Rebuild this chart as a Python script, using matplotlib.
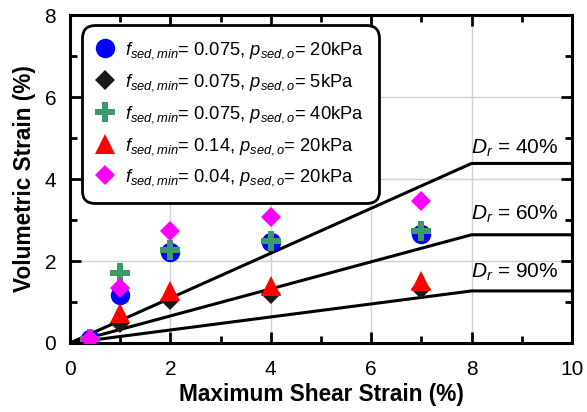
import matplotlib.pyplot as plt
from matplotlib.ticker import MultipleLocator

plt.rcParams['font.family'] = ['Liberation Sans', 'DejaVu Sans']
plt.rcParams['mathtext.fontset'] = 'custom'
plt.rcParams['mathtext.rm'] = 'Liberation Sans'
plt.rcParams['mathtext.it'] = 'Liberation Sans:italic'

# --- data ---
shear = [0.4, 1, 2, 4, 7]
series_labels = [
    r'$f_{sed,min}$= 0.075, $p_{sed,o}$= 20kPa',
    r'$f_{sed,min}$= 0.075, $p_{sed,o}$= 5kPa',
    r'$f_{sed,min}$= 0.075, $p_{sed,o}$= 40kPa',
    r'$f_{sed,min}$= 0.14, $p_{sed,o}$= 20kPa',
    r'$f_{sed,min}$= 0.04, $p_{sed,o}$= 20kPa',
]
vol_blue = [0.10, 1.17, 2.23, 2.46, 2.66]
vol_black = [0.05, 0.48, 1.05, 1.20, 1.32]
vol_green = [0.10, 1.71, 2.28, 2.50, 2.72]
vol_red = [0.05, 0.72, 1.26, 1.38, 1.50]
vol_magenta = [0.10, 1.33, 2.73, 3.08, 3.47]

# relative density bounds: linear to 8 %, flat afterwards
dr_labels = ['40%', '60%', '90%']
dr_x = [0, 8, 10]
dr_40 = [0, 4.38, 4.38]
dr_60 = [0, 2.64, 2.64]
dr_90 = [0, 1.27, 1.27]
dr_text_y = [4.75, 3.15, 1.72]

fig = plt.figure(figsize=(5.87, 4.12), dpi=100)
ax = fig.add_axes([0.1193, 0.1675, 0.855, 0.796])

for yy in (dr_40, dr_60, dr_90):
    ax.plot(dr_x, yy, color='black', lw=2.2, zorder=2)
for lab, ty in zip(dr_labels, dr_text_y):
    ax.text(7.98, ty, r'$D_r$ = ' + lab, fontsize=15, va='center', ha='left')

styles = [
    (vol_blue, 'o', '#0000ff', 14),
    (vol_black, 'D', '#1a1a1a', 10),
    (vol_green, 'P', '#3a9a6a', 14),
    (vol_red, '^', '#ff0000', 14),
    (vol_magenta, 'D', '#ff00ff', 10.5),
]
for (vals, m, c, ms), lab in zip(styles, series_labels):
    ax.plot(shear, vals, linestyle='none', marker=m, color=c, markersize=ms,
            markeredgewidth=0, label=lab, zorder=3)

ax.set_xlim(0, 10)
ax.set_ylim(0, 8)
ax.xaxis.set_major_locator(MultipleLocator(2))
ax.xaxis.set_minor_locator(MultipleLocator(1))
ax.yaxis.set_major_locator(MultipleLocator(2))
ax.yaxis.set_minor_locator(MultipleLocator(1))
ax.grid(True, which='major', color='#d0d0d0', lw=1.0, zorder=0)
ax.set_axisbelow(True)
ax.tick_params(which='both', direction='in', top=True, right=True, width=2,
               labelsize=15)
ax.tick_params(axis='x', pad=12)
ax.tick_params(axis='y', pad=10)
ax.tick_params(which='major', length=8)
ax.tick_params(which='minor', length=5)
for s in ax.spines.values():
    s.set_linewidth(2.2)

ax.set_xlabel('Maximum Shear Strain (%)', fontsize=16.3, fontweight='bold', labelpad=3)
ax.set_ylabel('Volumetric Strain (%)', fontsize=16.3, fontweight='bold', labelpad=6)

leg = ax.legend(loc='upper left', bbox_to_anchor=(0.024, 0.97), fontsize=13.2,
                frameon=True, fancybox=True, handletextpad=0.6, handlelength=0.9,
                borderpad=0.82, labelspacing=0.6, borderaxespad=0)
frame = leg.get_frame()
frame.set_edgecolor('black')
frame.set_linewidth(2)
frame.set_alpha(1)
frame.set_boxstyle('round,pad=0.0,rounding_size=0.7')

fig.savefig('out.png', dpi=100)
